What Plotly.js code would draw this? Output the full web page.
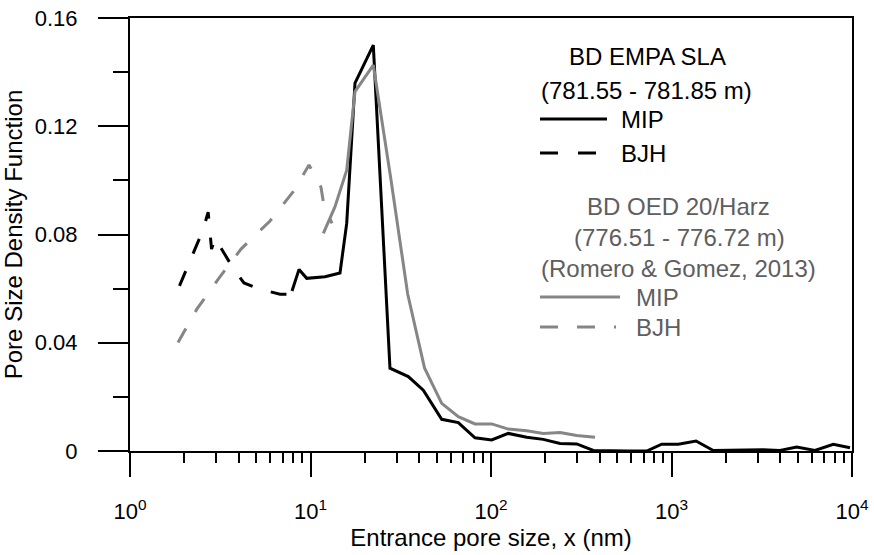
<!DOCTYPE html>
<html>
<head>
<meta charset="utf-8">
<script src="https://cdn.plot.ly/plotly-3.0.1.min.js"></script>
<style>html,body{margin:0;padding:0;background:#fff;}#chart{width:874px;height:555px;}</style>
</head>
<body>
<div id="chart"></div>
<script>
// Data
var empaMipX = [7.90, 8.64, 9.53, 12.03, 14.57, 15.87, 17.64, 22.28, 27.56, 34.82, 42.17, 53.33, 65.9, 81.53, 100.9, 124.7, 157.7, 194.9, 241.2, 298.5, 368.8, 456.2, 574, 729, 882.6, 1091, 1367, 1704, 2110, 2586, 3213, 3992, 4939, 6237, 7878, 9750];
var empaMipY = [0.0591, 0.0671, 0.0638, 0.0644, 0.0658, 0.0841, 0.1359, 0.1500, 0.0306, 0.0275, 0.0225, 0.0117, 0.0105, 0.0049, 0.0041, 0.0065, 0.0051, 0.0043, 0.0028, 0.0026, 0.0002, 0, 0, 0, 0.0025, 0.0025, 0.0037, 0.0002, 0.0002, 0.0004, 0.0005, 0.0002, 0.0015, 0.0002, 0.0025, 0.0012];

var empaBjhX = [1.88, 2.54, 2.71, 2.83, 2.96, 3.72, 4.28, 5.12, 6.78, 8.31];
var empaBjhY = [0.0610, 0.0817, 0.0883, 0.0746, 0.0787, 0.0676, 0.0621, 0.0600, 0.0579, 0.0579];

var oedMipX = [11.78, 13.67, 15.87, 17.64, 22.28, 27.93, 34.55, 42.82, 53.33, 65.9, 81.53, 100.9, 124.7, 157.7, 194.9, 241.2, 298.5, 376.9];
var oedMipY = [0.0804, 0.0903, 0.1038, 0.1328, 0.1426, 0.1001, 0.0580, 0.0307, 0.0176, 0.0127, 0.0100, 0.0100, 0.0081, 0.0075, 0.0065, 0.0068, 0.0057, 0.0051];

var oedBjhX = [1.845, 2.043, 2.351, 3.112, 4.121, 5.966, 8.0, 9.81, 11.43, 11.88, 13.16];
var oedBjhY = [0.0401, 0.0454, 0.0525, 0.0639, 0.0746, 0.0850, 0.0957, 0.1057, 0.0975, 0.0905, 0.0841];

var xTickVals = [1, 10, 100, 1000, 10000];
var xTickText = ['10<sup>0</sup>', '10<sup>1</sup>', '10<sup>2</sup>', '10<sup>3</sup>', '10<sup>4</sup>'];
var xMinorVals = [2,3,4,5,6,7,8,9,20,30,40,50,60,70,80,90,200,300,400,500,600,700,800,900,2000,3000,4000,5000,6000,7000,8000,9000];
var yTickVals = [0, 0.04, 0.08, 0.12, 0.16];
var yTickText = ['0', '0.04', '0.08', '0.12', '0.16'];

var FONT = 'Liberation Sans, Arial, Helvetica, sans-serif';
var BLACK = '#000000';
var GRAY = '#868686';
var GRAYTXT = '#5e5e5e';
var DASH = '16px,19px';

var traces = [
  {x: empaMipX, y: empaMipY, type: 'scatter', mode: 'lines', line: {color: BLACK, width: 3}, name: 'MIP'},
  {x: empaBjhX, y: empaBjhY, type: 'scatter', mode: 'lines', line: {color: BLACK, width: 3, dash: DASH}, name: 'BJH'},
  {x: oedMipX, y: oedMipY, type: 'scatter', mode: 'lines', line: {color: GRAY, width: 3}, name: 'MIP'},
  {x: oedBjhX, y: oedBjhY, type: 'scatter', mode: 'lines', line: {color: GRAY, width: 3, dash: DASH}, name: 'BJH'}
];

function px(v) { return (v - 130) / 722; }
function py(v) { return (451 - v) / 433; }

var legendText = [
  {t: 'BD EMPA SLA', x: 647, y: 57, c: BLACK, a: 'center'},
  {t: '(781.55 - 781.85 m)', x: 646, y: 91, c: BLACK, a: 'center'},
  {t: 'MIP', x: 619, y: 119, c: BLACK, a: 'left'},
  {t: 'BJH', x: 619, y: 153, c: BLACK, a: 'left'},
  {t: 'BD OED 20/Harz', x: 678, y: 207, c: GRAYTXT, a: 'center'},
  {t: '(776.51 - 776.72 m)', x: 679, y: 238, c: GRAYTXT, a: 'center'},
  {t: '(Romero &amp; Gomez, 2013)', x: 678, y: 268, c: GRAYTXT, a: 'center'},
  {t: 'MIP', x: 634, y: 297, c: GRAYTXT, a: 'left'},
  {t: 'BJH', x: 634, y: 327, c: GRAYTXT, a: 'left'}
];

var annotations = legendText.map(function (d) {
  return {text: d.t, xref: 'paper', yref: 'paper', x: px(d.x), y: py(d.y),
    xanchor: d.a, yanchor: 'middle', showarrow: false,
    font: {family: FONT, size: 24, color: d.c}};
});

var shapes = [
  {type: 'line', xref: 'paper', yref: 'paper', x0: px(540), x1: px(607), y0: py(119), y1: py(119), line: {color: BLACK, width: 3}},
  {type: 'line', xref: 'paper', yref: 'paper', x0: px(540), x1: px(597), y0: py(153), y1: py(153), line: {color: BLACK, width: 3, dash: '18px,20px'}},
  {type: 'line', xref: 'paper', yref: 'paper', x0: px(540), x1: px(620), y0: py(297), y1: py(297), line: {color: GRAY, width: 3}},
  {type: 'line', xref: 'paper', yref: 'paper', x0: px(540), x1: px(616), y0: py(327), y1: py(327), line: {color: GRAY, width: 3, dash: '18px,19px'}}
];

var layout = {
  width: 874, height: 555,
  margin: {l: 130, r: 22, t: 18, b: 104, pad: 0},
  paper_bgcolor: '#ffffff', plot_bgcolor: '#ffffff',
  showlegend: false,
  font: {family: FONT, size: 22, color: BLACK},
  xaxis: {
    type: 'log', range: [0, 4],
    tickmode: 'array', tickvals: xTickVals, ticktext: xTickText,
    ticks: 'outside', ticklen: 24, tickwidth: 2, tickcolor: BLACK,
    minor: {tickmode: 'array', tickvals: xMinorVals, ticks: 'outside', ticklen: 10, tickwidth: 2, tickcolor: BLACK, showgrid: false},
    showline: true, linewidth: 2, linecolor: BLACK, mirror: true,
    showgrid: false, zeroline: false,
    tickfont: {family: FONT, size: 22, color: BLACK},
    ticklabelstandoff: 16,
    title: {text: 'Entrance pore size, x (nm)', font: {family: FONT, size: 24, color: BLACK}, standoff: 2}
  },
  yaxis: {
    range: [0, 0.16],
    tickmode: 'array', tickvals: yTickVals, ticktext: yTickText,
    ticks: 'outside', ticklen: 30, tickwidth: 2, tickcolor: BLACK,
    minor: {dtick: 0.02, tick0: 0, ticks: 'outside', ticklen: 15, tickwidth: 2, tickcolor: BLACK, showgrid: false},
    showline: true, linewidth: 2, linecolor: BLACK, mirror: true,
    showgrid: false, zeroline: false,
    tickfont: {family: FONT, size: 22, color: BLACK},
    ticklabelstandoff: 16,
    title: {text: 'Pore Size Density Function', font: {family: FONT, size: 24, color: BLACK}, standoff: 5}
  },
  annotations: annotations,
  shapes: shapes
};

Plotly.newPlot('chart', traces, layout, {staticPlot: true, displayModeBar: false});
</script>
</body>
</html>
